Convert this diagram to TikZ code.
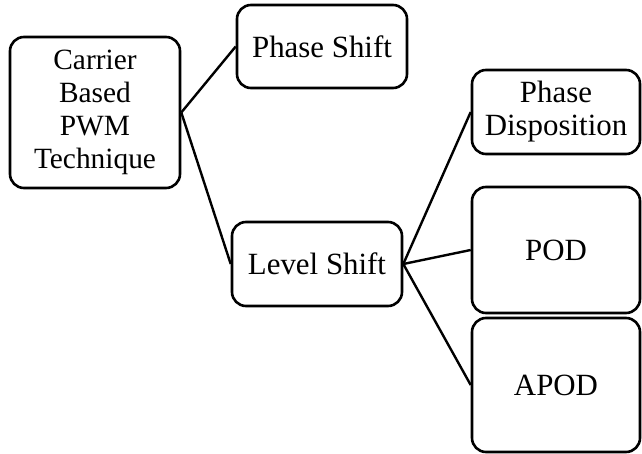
\documentclass[tikz,border=0pt]{standalone}
\usepackage{fontspec}
\setmainfont{Liberation Serif}
\begin{document}
\begin{tikzpicture}[x=1bp,y=-1bp,
  box/.style={draw=black, line width=2.6bp, rounded corners=14bp, align=center, inner sep=0pt,
    font=\fontsize{31}{35}\selectfont},
  link/.style={draw=black, line width=2.4bp}]
\useasboundingbox (0,0) rectangle (642,454);
\node[box, minimum width=170bp, minimum height=151bp, font=\fontsize{29.5}{33}\selectfont] (carrier) at (95,112.5) {Carrier\\Based\\PWM\\Technique};
\node[box, minimum width=170bp, minimum height=83bp] (phase) at (322,46.5) {Phase Shift};
\node[box, minimum width=170bp, minimum height=84bp] (level) at (317,264) {Level Shift};
\node[box, minimum width=168bp, minimum height=84bp] (pd) at (556,112) {Phase\\[-2bp]Disposition};
\node[box, minimum width=168bp, minimum height=126bp] (pod) at (556,250) {POD};
\node[box, minimum width=168bp, minimum height=134bp] (apod) at (556,385) {APOD};
\foreach \to in {phase,level} \draw[link] (carrier.east) -- (\to.west);
\foreach \to in {pd,pod,apod} \draw[link] (level.east) -- (\to.west);
\end{tikzpicture}
\end{document}
